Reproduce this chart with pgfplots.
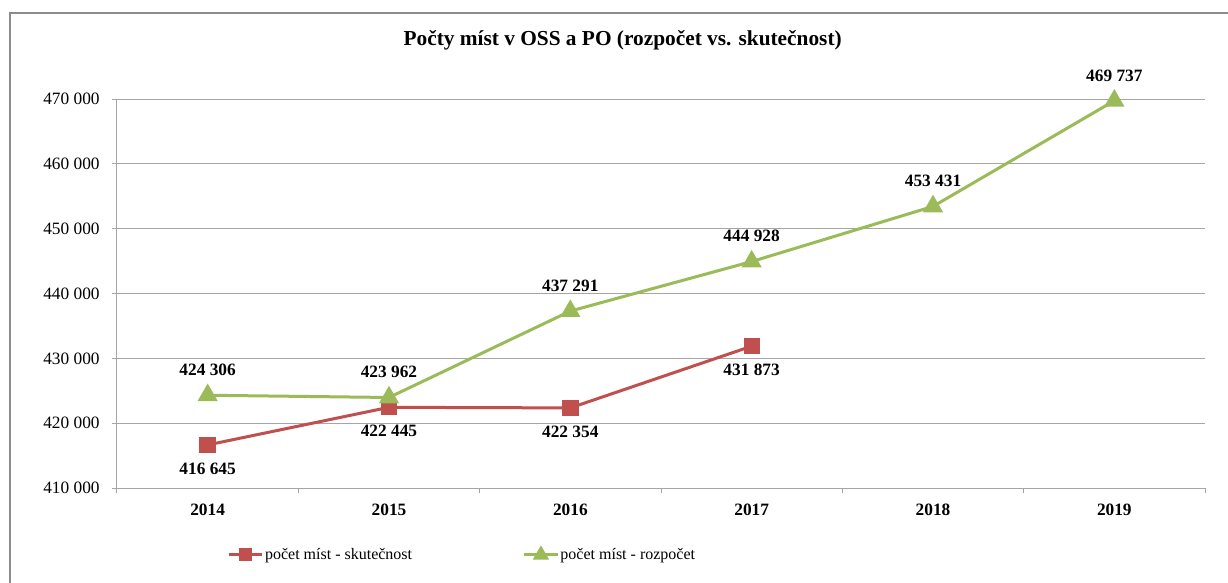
\documentclass[border=0pt]{standalone}
\usepackage{fontspec}
\setmainfont{Liberation Serif}
\usepackage{pgfplots}
\pgfplotsset{compat=1.18}
\definecolor{cred}{HTML}{C0504D}
\definecolor{cgreen}{HTML}{9BBB59}
\definecolor{cgrid}{HTML}{A6A6A6}
\definecolor{cframe}{HTML}{8C8C8C}
\begin{document}
\begin{tikzpicture}
\draw[color=cframe, line width=1.3pt] (7.5pt,-20pt) -- (7.5pt,426.75pt) -- (940pt,426.75pt);
\node[font=\bfseries\fontsize{16}{18}\selectfont] at (467pt,406.5pt) {Počty míst v OSS a PO (rozpočet vs. skutečnost)};
\begin{axis}[
  at={(87.75pt,70.5pt)}, anchor=south west,
  scale only axis, width=816pt, height=291.75pt,
  clip=false,
  xmin=-0.5, xmax=5.5, ymin=410000, ymax=470000,
  xtick={-0.5,0.5,...,5.5}, x tick label as interval,
  xticklabels={2014,2015,2016,2017,2018,2019},
  ytick={410000,420000,...,470000},
  ymajorgrids, grid style={cgrid, line width=0.75pt},
  axis x line*=bottom, axis y line*=left,
  axis line style={cgrid, line width=0.75pt},
  tick align=outside, major tick length=4pt,
  tick style={cgrid, line width=0.75pt},
  scaled y ticks=false,
  /pgf/number format/fixed,
  /pgf/number format/precision=0,
  /pgf/number format/1000 sep={\ },
  /pgf/number format/assume math mode=true,
  yticklabel style={font=\fontsize{13}{15}\selectfont, xshift=-5.5pt},
  xticklabel style={font=\bfseries\fontsize{13}{15}\selectfont, yshift=-4.5pt},
  legend columns=2,
  legend style={draw=none, at={(0.317,-0.172)}, anchor=center,
    font=\fontsize{12}{14}\selectfont,
    nodes={inner xsep=1pt},
    /tikz/every even column/.append style={column sep=82pt}},
  legend image code/.code={\draw[mark repeat=2,mark phase=2,#1, every mark/.append style={scale=0.75}] plot coordinates {(0pt,0pt) (12.5pt,0pt) (25pt,0pt)};},
]
\addplot[color=cred, line width=2.25pt, mark=square*, mark size=5pt,
  mark options={solid, fill=cred},
  nodes near coords,
  every node near coord/.append style={font=\bfseries\fontsize{13}{15}\selectfont, text=black, anchor=center, yshift=-18pt}]
  coordinates {(0,416645) (1,422445) (2,422354) (3,431873)};
\addlegendentry{počet míst - skutečnost}
\addplot[color=cgreen, line width=2.25pt, mark=triangle*, mark size=6.5pt,
  mark options={solid, fill=cgreen},
  nodes near coords,
  every node near coord/.append style={font=\bfseries\fontsize{13}{15}\selectfont, text=black, anchor=center, yshift=19pt}]
  coordinates {(0,424306) (1,423962) (2,437291) (3,444928) (4,453431) (5,469737)};
\addlegendentry{počet míst - rozpočet}
\end{axis}
\pgfresetboundingbox
\useasboundingbox (0pt,0pt) rectangle (921pt,436.5pt);
\end{tikzpicture}
\end{document}
